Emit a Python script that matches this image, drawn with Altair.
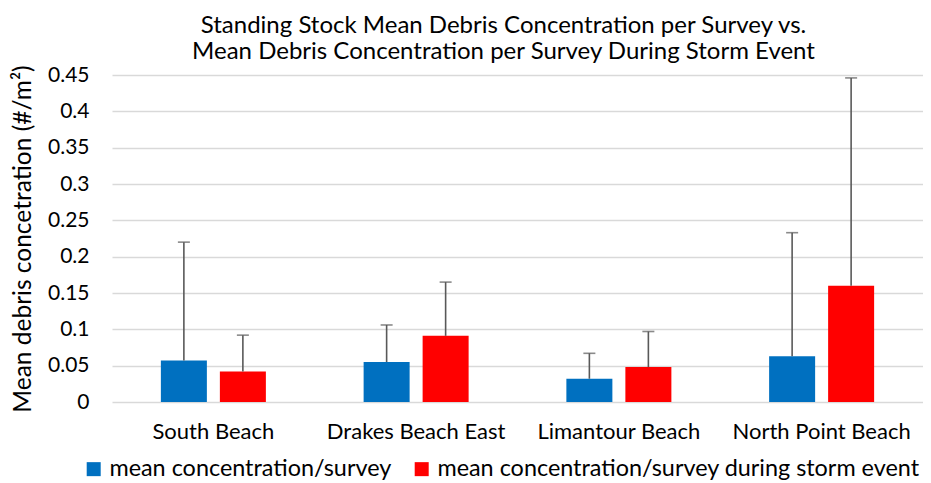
import altair as alt
import pandas as pd

beaches = ["South Beach", "Drakes Beach East", "Limantour Beach", "North Point Beach"]
series = ["mean concentration/survey", "mean concentration/survey during storm event"]
mean_survey = [0.057, 0.055, 0.032, 0.063]
mean_storm = [0.042, 0.091, 0.048, 0.160]
err_top_survey = [0.220, 0.106, 0.067, 0.233]
err_top_storm = [0.092, 0.165, 0.097, 0.446]
y_ticks = [0, 0.05, 0.1, 0.15, 0.2, 0.25, 0.3, 0.35, 0.4, 0.45]

rows = []
for i, b in enumerate(beaches):
    rows.append({"beach": b, "series": series[0], "value": mean_survey[i], "upper": err_top_survey[i]})
    rows.append({"beach": b, "series": series[1], "value": mean_storm[i], "upper": err_top_storm[i]})
df = pd.DataFrame(rows)

FONT = "Lato"
colors = ["#0070C0", "#FF0000"]
Y_TITLE = "Mean debris concetration (#/m²)"

x = alt.X("beach:N", sort=beaches, title=None,
          scale=alt.Scale(paddingInner=0, paddingOuter=0),
          axis=alt.Axis(labelAngle=0, ticks=False, domain=False, labelPadding=19,
                        labelFontSize=22, labelColor="#000000", labelFont=FONT,
                        labelLimit=400))
xo = alt.XOffset("series:N", sort=series,
                 scale=alt.Scale(paddingInner=0.2203, paddingOuter=0.8284))
y_axis = alt.Axis(values=y_ticks, format="~g", labelOverlap=False,
                  ticks=False, domain=False, labelPadding=23,
                  labelFontSize=21, labelColor="#000000", labelFont=FONT,
                  titleFontSize=24.5, titleFont=FONT, titleFontWeight="normal",
                  titleColor="#000000", titlePadding=12,
                  gridColor="#D9D9D9", gridWidth=1.3)
y_scale = alt.Scale(domain=[0, 0.45], nice=False)

base = alt.Chart(df)

bars = base.mark_bar().encode(
    x=x, xOffset=xo,
    y=alt.Y("value:Q", title=Y_TITLE, scale=y_scale, axis=y_axis),
    color=alt.Color("series:N", sort=series,
                    scale=alt.Scale(domain=series, range=colors),
                    legend=alt.Legend(title=None, orient="none", direction="horizontal",
                                      legendX=-30, legendY=382,
                                      symbolType="square", symbolSize=196,
                                      symbolStrokeWidth=0, labelFontSize=23.4,
                                      labelFont=FONT, labelColor="#000000",
                                      labelOffset=4, columnPadding=18, labelLimit=800)),
)

rules = base.mark_rule(color="#595959", strokeWidth=1.6).encode(
    x=x, xOffset=xo,
    y=alt.Y("value:Q", title=Y_TITLE, scale=y_scale, axis=y_axis),
    y2="upper:Q",
)

caps = base.mark_tick(color="#595959", thickness=1.6, size=12).encode(
    x=x, xOffset=xo,
    y=alt.Y("upper:Q", title=Y_TITLE, scale=y_scale, axis=y_axis),
)

chart = alt.layer(bars, rules, caps).properties(
    width=811, height=327,
    autosize=alt.AutoSizeParams(type="none"),
    padding={"left": 104, "top": 67, "right": 0, "bottom": 85},
    title=alt.TitleParams(
        ["Standing Stock Mean Debris Concentration per Survey vs.",
         "Mean Debris Concentration per Survey During Storm Event"],
        fontSize=24, font=FONT, fontWeight="normal", color="#000000",
        anchor="middle", dx=-14, offset=0, lineHeight=26.5),
).configure_view(stroke=None)

chart.save("out.html", embed_options={"renderer": "svg", "actions": False})
